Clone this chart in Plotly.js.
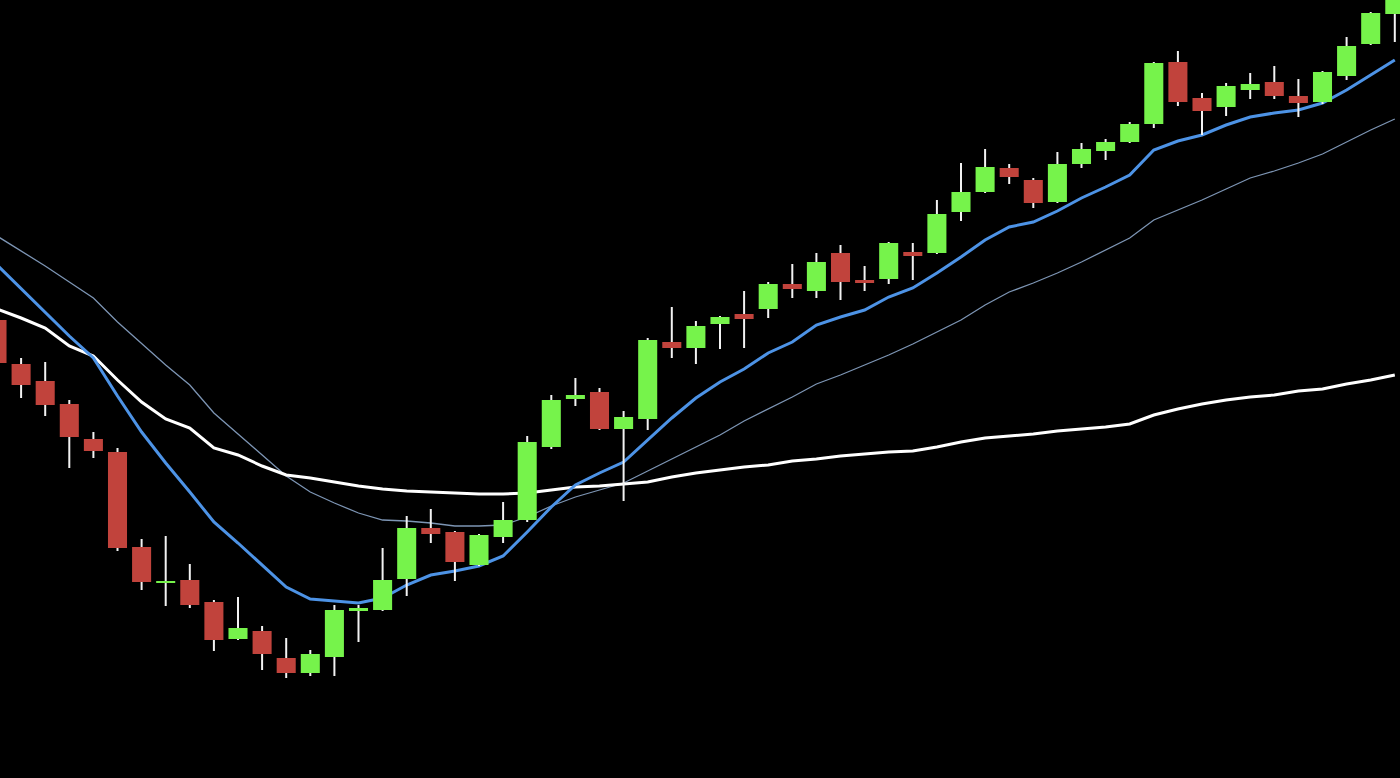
<!DOCTYPE html>
<html>
<head>
<meta charset="utf-8">
<script src="https://cdn.plot.ly/plotly-3.0.1.min.js"></script>
<style>
  html, body { margin: 0; padding: 0; background: #000; }
  #chart { width: 1400px; height: 778px; }
</style>
</head>
<body>
<div id="chart"></div>
<script>
// Session index (one per candle)
var idx = [];
for (var k = 0; k < 59; k++) idx.push(k);

// OHLC values (arbitrary price units)
var openV  = [458,414,397,374,339,326,231,195,198,176,139,147,120,105,121,167,168,199,250,246,213,241,258,331,379,386,349,359,436,430,454,464,469,494,487,525,498,499,526,525,566,586,610,598,576,614,627,636,654,716,680,671,688,696,682,676,702,734,764];
var highV  = [460,420,416,378,346,330,239,242,214,178,181,152,140,128,173,173,230,262,269,247,244,276,342,383,400,390,367,440,471,457,462,487,496,514,525,533,512,536,535,578,615,629,614,600,626,635,639,656,716,727,685,695,705,712,699,707,741,766,790];
var lowV   = [413,380,362,310,320,227,188,172,170,127,138,108,100,102,102,136,167,182,235,197,212,235,256,329,372,348,277,348,420,414,429,430,460,480,480,478,487,494,498,524,557,585,594,570,575,610,618,635,650,672,643,662,679,679,661,674,698,733,736];
var closeV = [415,393,373,341,327,230,196,197,173,138,150,124,105,124,168,170,198,250,244,216,243,258,336,378,383,349,361,438,430,452,461,459,494,489,516,496,495,535,522,564,586,611,601,575,614,629,636,654,715,676,667,692,694,682,675,706,732,765,786];

// Moving averages
var maFast = [513,489,465,442,420,382,346,315,286,256,235,213,191,179,177,175,180,193,203,207,212,222,246,271,293,305,316,338,360,380,396,409,425,436,453,461,468,481,490,505,521,538,551,556,567,580,591,603,628,637,643,653,661,665,668,675,688,703,718];
var maMid  = [542,527,512,496,480,456,434,413,393,365,344,323,302,286,275,265,258,257,255,252,252,253,261,272,281,288,295,307,319,331,343,357,369,381,394,403,413,423,434,446,458,473,486,495,505,516,528,540,558,568,578,589,600,607,615,624,636,648,659];
var maSlow = [469,460,450,432,422,398,376,359,350,330,323,312,303,300,296,292,289,287,286,285,284,284,285,288,291,292,294,296,301,305,308,311,313,317,319,322,324,326,327,331,336,340,342,344,347,349,351,354,363,369,374,378,381,383,387,389,394,398,403];

// Wick segments (high to low) built from the OHLC arrays
var wx = [], wy = [];
for (var i = 0; i < idx.length; i++) {
  wx.push(idx[i], idx[i], null);
  wy.push(highV[i], lowV[i], null);
}

var GREEN = '#76f34b';
var RED = '#c1433c';

var traces = [
  { type: 'scatter', mode: 'lines', x: idx, y: maMid, xaxis: 'x', yaxis: 'y',
    line: { color: '#7d95b4', width: 1.3 }, hoverinfo: 'skip' },
  { type: 'scatter', mode: 'lines', x: idx, y: maSlow, xaxis: 'x', yaxis: 'y',
    line: { color: '#ffffff', width: 3 }, hoverinfo: 'skip' },
  { type: 'scatter', mode: 'lines', x: idx, y: maFast, xaxis: 'x', yaxis: 'y',
    line: { color: '#4d93e6', width: 3 }, hoverinfo: 'skip' },
  { type: 'scatter', mode: 'lines', x: wx, y: wy, xaxis: 'x2', yaxis: 'y2',
    line: { color: '#f2f2f2', width: 2, simplify: false }, hoverinfo: 'skip', connectgaps: false },
  { type: 'candlestick', x: idx, open: openV, high: highV, low: lowV, close: closeV,
    xaxis: 'x3', yaxis: 'y3',
    increasing: { line: { color: GREEN, width: 0 }, fillcolor: GREEN },
    decreasing: { line: { color: RED, width: 0 }, fillcolor: RED },
    whiskerwidth: 0, hoverinfo: 'skip' }
];

var xr = [3 / 24.1, 1403 / 24.1];
var yr = [0, 778];
function ax(extra) {
  var a = { range: xr, showgrid: false, zeroline: false, showticklabels: false,
            showline: false, ticks: '', fixedrange: true, rangeslider: { visible: false } };
  for (var key in extra) a[key] = extra[key];
  return a;
}
function ay(extra) {
  var a = { range: yr, showgrid: false, zeroline: false, showticklabels: false,
            showline: false, ticks: '', fixedrange: true };
  for (var key in extra) a[key] = extra[key];
  return a;
}

var layout = {
  width: 1400, height: 778,
  margin: { l: 0, r: 0, t: 0, b: 0, pad: 0 },
  paper_bgcolor: '#000000', plot_bgcolor: '#000000',
  showlegend: false, hovermode: false,
  boxgap: 0.21, boxgroupgap: 0,
  xaxis: ax({}),
  yaxis: ay({}),
  xaxis2: ax({ overlaying: 'x' }),
  yaxis2: ay({ overlaying: 'y' }),
  xaxis3: ax({ overlaying: 'x' }),
  yaxis3: ay({ overlaying: 'y' })
};

Plotly.newPlot('chart', traces, layout, { staticPlot: true, displayModeBar: false });
</script>
</body>
</html>
